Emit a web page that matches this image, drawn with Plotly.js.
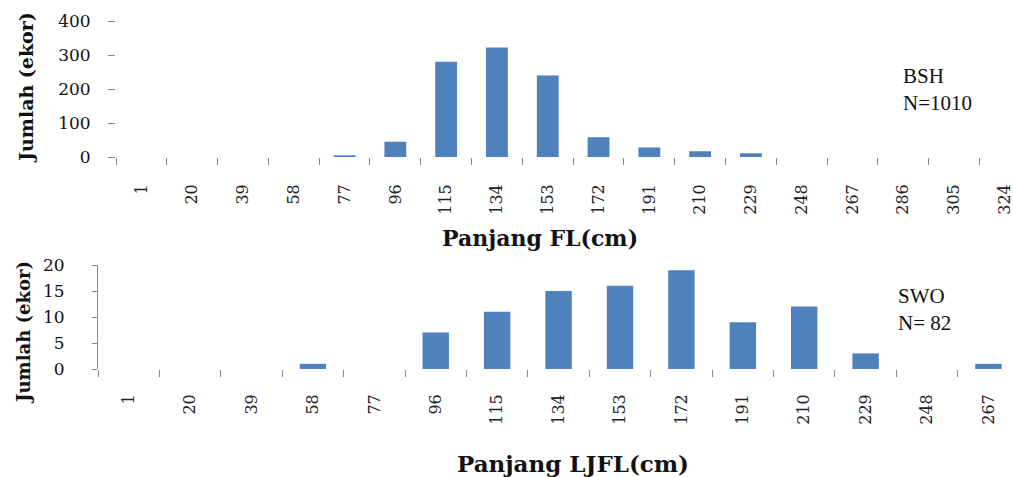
<!DOCTYPE html>
<html>
<head>
<meta charset="utf-8">
<script src="https://cdn.plot.ly/plotly-3.0.1.min.js"></script>
<style>html,body{margin:0;padding:0;background:#fff;}#chart{width:1013px;height:477px;}</style>
</head>
<body>
<div id="chart"></div>
<script>
// Top panel: BSH, Panjang FL (cm)
const catsFL = ['1','20','39','58','77','96','115','134','153','172','191','210','229','248','267','286','305','324'];
const countsFL = [0,0,0,0,5,45,280,322,240,58,28,17,11,0,0,0,0,0];
// Bottom panel: SWO, Panjang LJFL (cm)
const catsLJFL = ['1','20','39','58','77','96','115','134','153','172','191','210','229','248','267'];
const countsLJFL = [0,0,0,1,0,7,11,15,16,19,9,12,3,0,1];

const yTicksFL = [0,100,200,300,400];
const yTicksLJFL = [0,5,10,15,20];

const barColor = '#4F81BD';
const axisGrey = '#898989';
const serif = 'DejaVu Serif, Liberation Serif, serif';

const traces = [
  {type:'bar', x:catsFL, y:countsFL, xaxis:'x', yaxis:'y', marker:{color:barColor}, hoverinfo:'x+y'},
  {type:'bar', x:catsLJFL, y:countsLJFL, xaxis:'x2', yaxis:'y2', marker:{color:barColor}, hoverinfo:'x+y'}
];

const layout = {
  width:1013, height:477,
  margin:{l:0,r:0,t:0,b:0},
  paper_bgcolor:'#fff', plot_bgcolor:'#fff',
  showlegend:false,
  bargap:0.57,
  font:{family:serif, color:'#111'},
  xaxis:{
    type:'category', domain:[116/1013,1], range:[-0.5,17.16], anchor:'y',
    tickangle:-90, tickfont:{family:serif,size:16,color:'#222'},
    ticks:'outside', ticklen:7, tickcolor:axisGrey, tickson:'boundaries',
    ticklabelstandoff:23,
    showline:false, showgrid:false, zeroline:false, fixedrange:true
  },
  yaxis:{
    domain:[(477-157)/477,(477-21)/477], range:[0,400], anchor:'x',
    tickvals:yTicksFL, tickfont:{family:serif,size:17,color:'#111'},
    ticks:'outside', ticklen:7, tickcolor:axisGrey, ticklabelstandoff:14,
    showline:false, showgrid:false, zeroline:false, fixedrange:true
  },
  xaxis2:{
    type:'category', domain:[98/1013,1], range:[-0.5,14.4], anchor:'y2',
    tickangle:-90, tickfont:{family:serif,size:16,color:'#222'},
    ticks:'outside', ticklen:7, tickcolor:axisGrey, tickson:'boundaries',
    ticklabelstandoff:21,
    showline:false, showgrid:false, zeroline:false, fixedrange:true
  },
  yaxis2:{
    domain:[(477-369)/477,(477-265)/477], range:[0,20], anchor:'x2',
    tickvals:yTicksLJFL, tickfont:{family:serif,size:17,color:'#111'},
    ticks:'outside', ticklen:5, tickcolor:axisGrey, ticklabelstandoff:24,
    showline:true, linecolor:axisGrey, linewidth:1,
    showgrid:false, zeroline:false, fixedrange:true
  },
  annotations:[
    {xref:'paper', yref:'paper', x:540/1013, y:(477-238)/477, xanchor:'center', yanchor:'middle',
     text:'<b>Panjang FL(cm)</b>', showarrow:false, font:{family:serif,size:22,color:'#111'}},
    {xref:'paper', yref:'paper', x:573/1013, y:(477-463)/477, xanchor:'center', yanchor:'middle',
     text:'<b>Panjang LJFL(cm)</b>', showarrow:false, font:{family:serif,size:23,color:'#111'}},
    {xref:'paper', yref:'paper', x:26/1013, y:(477-88)/477, xanchor:'center', yanchor:'middle', textangle:-90,
     text:'<b>Jumlah (ekor)</b>', showarrow:false, font:{family:serif,size:19,color:'#111'}},
    {xref:'paper', yref:'paper', x:23/1013, y:(477-333)/477, xanchor:'center', yanchor:'middle', textangle:-90,
     text:'<b>Jumlah (ekor)</b>', showarrow:false, font:{family:serif,size:18,color:'#111'}},
    {xref:'paper', yref:'paper', x:901/1013, y:(477-90)/477, xanchor:'left', yanchor:'middle', align:'left',
     text:'BSH<br>N=1010', showarrow:false, font:{family:'Liberation Serif, serif',size:21,color:'#111'}},
    {xref:'paper', yref:'paper', x:896/1013, y:(477-309)/477, xanchor:'left', yanchor:'middle', align:'left',
     text:'SWO<br>N= 82', showarrow:false, font:{family:'Liberation Serif, serif',size:21,color:'#111'}}
  ]
};

Plotly.newPlot('chart', traces, layout, {displayModeBar:false, staticPlot:true});
</script>
</body>
</html>
